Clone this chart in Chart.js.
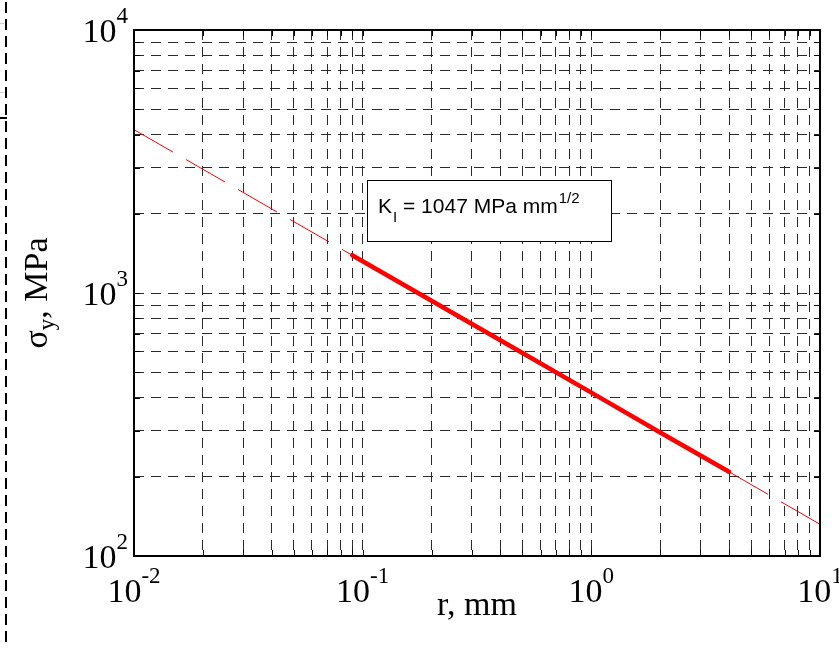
<!DOCTYPE html>
<html>
<head>
<meta charset="utf-8">
<script src="https://cdn.jsdelivr.net/npm/chart.js@4.4.1/dist/chart.umd.min.js"></script>
<style>
  html,body{margin:0;padding:0;background:#fff;}
  #wrap{width:839px;height:648px;}
</style>
</head>
<body>
<div id="wrap"><canvas id="c" width="839" height="648"></canvas></div>
<script>
// ---- data ----
const rDashedLow = [0.01, 0.09];
const sigmaDashedLow = [4180, 1392];
const rSolid = [0.09, 0.2, 0.5, 1, 2, 4];
const sigmaSolid = [1392, 934, 591, 418, 295, 209];
const rDashedHigh = [4, 10];
const sigmaDashedHigh = [209, 132];

const xTickValues = [0.01, 0.1, 1, 10];
const xTickExps = ['-2', '-1', '0', '1'];
const yTickValues = [100, 1000, 10000];
const yTickExps = ['2', '3', '4'];

const xTitle = 'r, mm';
const yTitleMain = 'σ';
const yTitleSub = 'y';
const yTitleRest = ', MPa';
const noteMain = 'K';
const noteSub = 'I';
const noteMid = ' = 1047 MPa mm';
const noteSup = '1/2';

function decadeGrid(lo, hi) {
  const out = [];
  for (let d = lo; d < hi * 0.999; d *= 10) {
    for (let k = 1; k <= 9; k++) out.push(+(k * d).toPrecision(3));
  }
  out.push(hi);
  return out;
}
const xGridValues = decadeGrid(0.01, 10);
const yGridValues = decadeGrid(100, 10000);

const toPts = (xs, ys) => xs.map((x, i) => ({x: x, y: ys[i]}));

const SERIF = '"Liberation Serif", "Times New Roman", serif';
const SANS = '"Liberation Sans", Arial, sans-serif';

const decor = {
  id: 'decor',
  afterDraw(chart) {
    const ctx = chart.ctx;
    const a = chart.chartArea;
    const xs = chart.scales.x, ys = chart.scales.y;
    ctx.save();
    // inner ticks
    ctx.strokeStyle = '#000';
    ctx.lineWidth = 1;
    ctx.beginPath();
    xGridValues.forEach(v => {
      const px = Math.round(xs.getPixelForValue(v)) + 0.5;
      ctx.moveTo(px, a.bottom); ctx.lineTo(px, a.bottom - 6);
      ctx.moveTo(px, a.top); ctx.lineTo(px, a.top + 6);
    });
    yGridValues.forEach(v => {
      const py = Math.round(ys.getPixelForValue(v)) + 0.5;
      ctx.moveTo(a.left, py); ctx.lineTo(a.left + 6, py);
      ctx.moveTo(a.right, py); ctx.lineTo(a.right - 6, py);
    });
    ctx.stroke();
    // frame
    ctx.lineWidth = 2;
    ctx.strokeRect(a.left, a.top, a.right - a.left, a.bottom - a.top);

    // x tick labels
    ctx.fillStyle = '#000';
    ctx.textBaseline = 'alphabetic';
    xTickValues.forEach((v, i) => {
      const px = xs.getPixelForValue(v);
      ctx.font = '34px ' + SERIF;
      const w1 = ctx.measureText('10').width;
      ctx.font = '23px ' + SERIF;
      const w2 = ctx.measureText(xTickExps[i]).width;
      const x0 = px - (w1 + w2) / 2;
      ctx.font = '34px ' + SERIF;
      ctx.fillText('10', x0, a.bottom + 46);
      ctx.font = '23px ' + SERIF;
      ctx.fillText(xTickExps[i], x0 + w1, a.bottom + 27);
    });
    // y tick labels
    yTickValues.forEach((v, i) => {
      const py = ys.getPixelForValue(v);
      ctx.font = '23px ' + SERIF;
      const w2 = ctx.measureText(yTickExps[i]).width;
      ctx.font = '34px ' + SERIF;
      const w1 = ctx.measureText('10').width;
      const xr = a.left - 6;
      ctx.fillText('10', xr - w2 - w1, py + 12);
      ctx.font = '23px ' + SERIF;
      ctx.fillText(yTickExps[i], xr - w2, py - 7);
    });
    // x title
    ctx.font = '34px ' + SERIF;
    ctx.textAlign = 'center';
    ctx.fillText(xTitle, (a.left + a.right) / 2, 615);
    ctx.textAlign = 'left';
    // y title (rotated)
    ctx.save();
    ctx.translate(47, 293);
    ctx.rotate(-Math.PI / 2);
    ctx.font = '34px ' + SERIF;
    const t1 = ctx.measureText(yTitleMain).width;
    const t3 = ctx.measureText(yTitleRest).width;
    ctx.font = '23px ' + SERIF;
    const t2 = ctx.measureText(yTitleSub).width;
    let tx = -(t1 + t2 + t3) / 2;
    ctx.font = '34px ' + SERIF;
    ctx.fillText(yTitleMain, tx, 0); tx += t1;
    ctx.font = '23px ' + SERIF;
    ctx.fillText(yTitleSub, tx, 7); tx += t2;
    ctx.font = '34px ' + SERIF;
    ctx.fillText(yTitleRest, tx, 0);
    ctx.restore();

    // annotation box
    ctx.fillStyle = '#fff';
    ctx.fillRect(367, 180, 244, 61);
    ctx.strokeStyle = '#000';
    ctx.lineWidth = 1;
    ctx.strokeRect(367.5, 180.5, 244, 61);
    ctx.fillStyle = '#000';
    let nx = 378;
    ctx.font = '21px ' + SANS;
    ctx.fillText(noteMain, nx, 213); nx += ctx.measureText(noteMain).width;
    ctx.font = '15px ' + SANS;
    ctx.fillText(noteSub, nx + 1, 222); nx += ctx.measureText(noteSub).width + 1;
    ctx.font = '21px ' + SANS;
    ctx.fillText(noteMid, nx, 213); nx += ctx.measureText(noteMid).width;
    ctx.font = '15px ' + SANS;
    ctx.fillText(noteSup, nx + 1, 203);

    // left dashed page border
    ctx.strokeStyle = '#000';
    ctx.lineWidth = 2;
    ctx.setLineDash([11, 6]);
    ctx.beginPath();
    ctx.moveTo(6, 2); ctx.lineTo(6, 648);
    ctx.stroke();
    ctx.setLineDash([]);
    ctx.beginPath();
    ctx.moveTo(0, 118); ctx.lineTo(7, 118);
    ctx.stroke();
    ctx.strokeStyle = '#ccc';
    ctx.lineWidth = 1;
    ctx.beginPath();
    ctx.moveTo(0, 23.5); ctx.lineTo(4, 23.5);
    ctx.moveTo(0, 92.5); ctx.lineTo(4, 92.5);
    ctx.stroke();
    ctx.restore();
  }
};

const gridOpts = { color: '#2a2a2a', lineWidth: 1, drawTicks: false };
const borderOpts = { display: false, dash: [10, 7] };

new Chart(document.getElementById('c'), {
  type: 'scatter',
  data: {
    datasets: [
      { data: toPts(rDashedLow, sigmaDashedLow), showLine: true, borderColor: '#ff0000',
        borderWidth: 1, borderDash: [45, 15], pointRadius: 0 },
      { data: toPts(rSolid, sigmaSolid), showLine: true, borderColor: '#ff0000',
        borderWidth: 4.5, pointRadius: 0, borderCapStyle: 'round' },
      { data: toPts(rDashedHigh, sigmaDashedHigh), showLine: true, borderColor: '#ff0000',
        borderWidth: 1, borderDash: [45, 15], pointRadius: 0 }
    ]
  },
  options: {
    responsive: false,
    animation: false,
    devicePixelRatio: 1,
    layout: { padding: { left: 134, top: 30, right: 19, bottom: 92 } },
    plugins: { legend: { display: false }, tooltip: { enabled: false } },
    scales: {
      x: {
        type: 'logarithmic', min: 0.01, max: 10,
        afterBuildTicks: s => { s.ticks = xGridValues.map(v => ({ value: v })); },
        ticks: { display: false },
        grid: gridOpts, border: borderOpts
      },
      y: {
        type: 'logarithmic', min: 100, max: 10000,
        afterBuildTicks: s => { s.ticks = yGridValues.map(v => ({ value: v })); },
        ticks: { display: false },
        grid: gridOpts, border: borderOpts
      }
    }
  },
  plugins: [decor]
});
</script>
</body>
</html>
